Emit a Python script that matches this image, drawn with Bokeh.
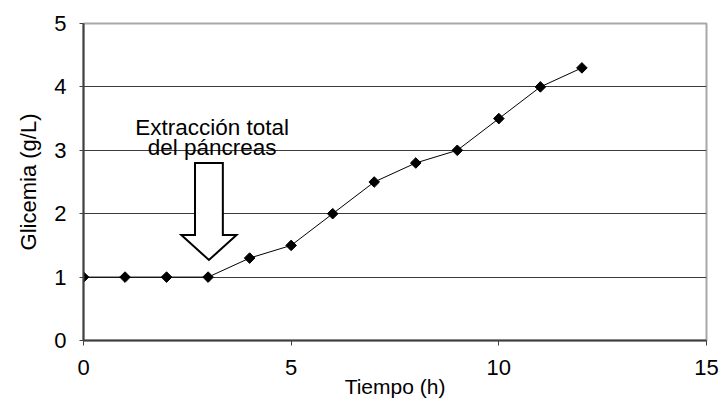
from bokeh.plotting import figure
from bokeh.models import FixedTicker, Range1d, Label, ColumnDataSource
from bokeh.embed import file_html
from bokeh.resources import INLINE
import math

# ---- data ----
tiempo_h = [0, 1, 2, 3, 4, 5, 6, 7, 8, 9, 10, 11, 12]
glicemia = [1.0, 1.0, 1.0, 1.0, 1.3, 1.5, 2.0, 2.5, 2.8, 3.0, 3.5, 4.0, 4.3]
x_ticks = [0, 5, 10, 15]
y_ticks = [0, 1, 2, 3, 4, 5]

# annotation (hollow arrow) in data units
arrow_x = 3.02
arrow_top = 2.80
arrow_head_base = 1.665
arrow_tip = 1.27
shaft_half = 0.335
head_half = 0.665
note_lines = ["Extracción total", "del páncreas"]
note_x = 3.095
note_y = [3.36, 3.05]

FONT = "Liberation Sans"

p = figure(width=728, height=404, x_range=Range1d(0, 15), y_range=Range1d(0, 5),
           output_backend="svg", toolbar_location=None,
           min_border_left=83, min_border_right=22, min_border_top=23, min_border_bottom=64)

p.background_fill_color = "white"
p.border_fill_color = "white"
p.outline_line_color = "#a8a8a8"
p.outline_line_width = 2

p.xaxis.ticker = FixedTicker(ticks=x_ticks)
p.yaxis.ticker = FixedTicker(ticks=y_ticks)
p.xgrid.visible = False
p.ygrid.ticker = FixedTicker(ticks=[t for t in y_ticks if 0 < t < 5])
p.ygrid.grid_line_color = "#3a3a3a"
p.ygrid.grid_line_width = 1

for ax in (p.xaxis[0], p.yaxis[0]):
    ax.axis_line_color = "#404040"
    ax.axis_line_width = 2
    ax.major_tick_line_color = "#404040"
    ax.major_tick_line_width = 1
    ax.major_tick_in = 0
    ax.minor_tick_line_color = None
    ax.major_label_text_font = FONT
    ax.major_label_text_font_size = "22px"
    ax.major_label_text_color = "black"
    ax.axis_label_text_font = FONT
    ax.axis_label_text_font_style = "normal"
    ax.axis_label_text_color = "black"

p.xaxis.major_tick_out = 5
p.xaxis.major_label_standoff = 14
p.xaxis.axis_label = "Tiempo (h)"
p.xaxis.axis_label_text_font_size = "21px"
p.xaxis.axis_label_standoff = -3

p.yaxis.major_tick_out = 4
p.yaxis.major_label_standoff = 13
p.yaxis.axis_label = "Glicemia (g/L)"
p.yaxis.axis_label_text_font_size = "22px"
p.yaxis.axis_label_standoff = 10

src = ColumnDataSource(dict(x=tiempo_h, y=glicemia))
p.line("x", "y", source=src, line_color="black", line_width=1)
p.scatter("x", "y", source=src, marker="square", size=7.5, angle=math.pi / 4,
          fill_color="black", line_color="black")

# hollow down arrow
ax_pts = [arrow_x - shaft_half, arrow_x + shaft_half, arrow_x + shaft_half, arrow_x + head_half,
          arrow_x, arrow_x - head_half, arrow_x - shaft_half]
ay_pts = [arrow_top, arrow_top, arrow_head_base, arrow_head_base, arrow_tip,
          arrow_head_base, arrow_head_base]
p.patch(ax_pts, ay_pts, fill_color="white", line_color="black", line_width=2, line_join="miter")

for txt, yy in zip(note_lines, note_y):
    p.add_layout(Label(x=note_x, y=yy, text=txt, text_align="center", text_baseline="alphabetic",
                       text_font=FONT, text_font_size="22.5px", text_color="black"))

open("out.html", "w").write(file_html(p, INLINE))
